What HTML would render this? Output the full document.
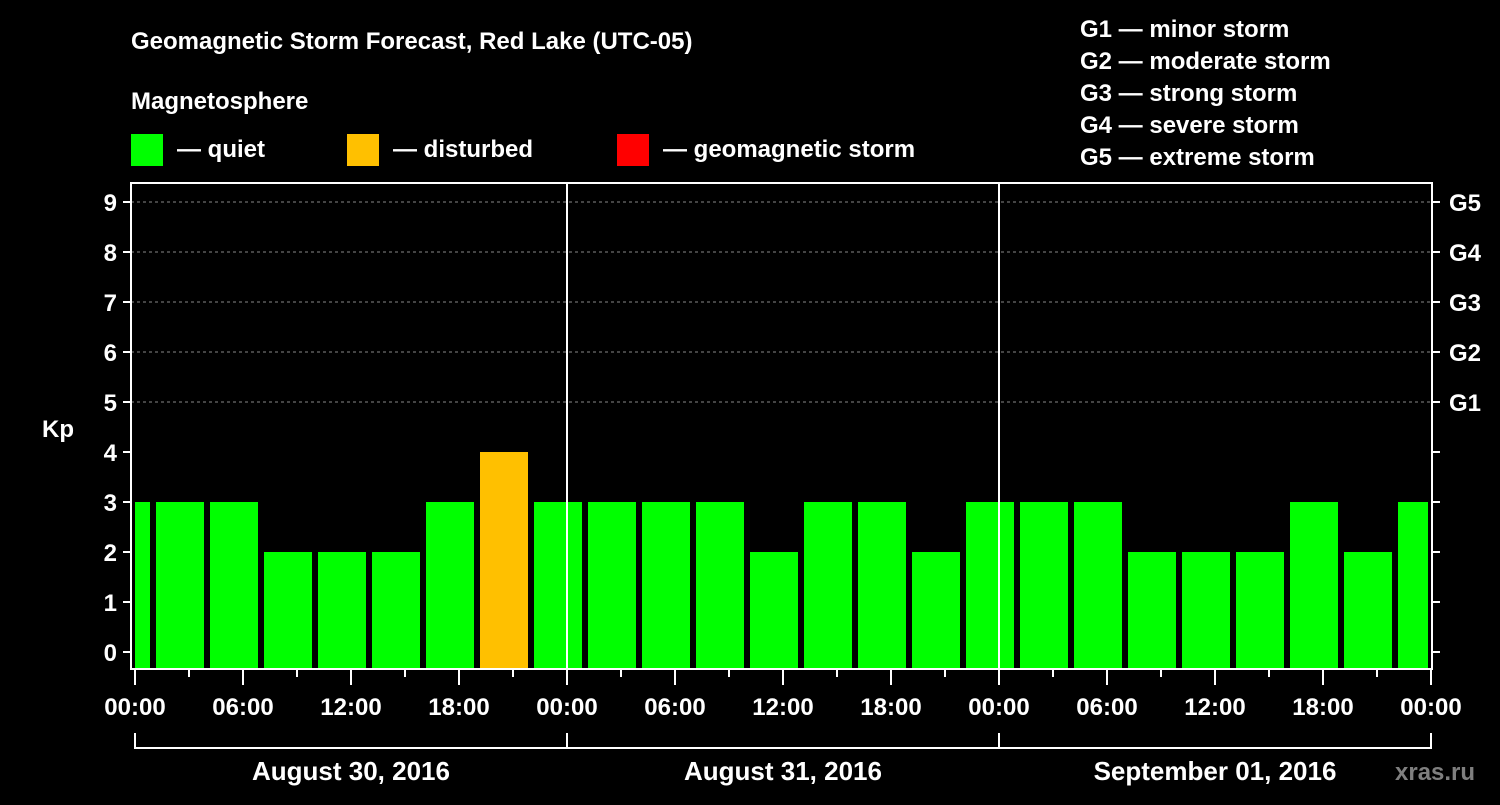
<!DOCTYPE html>
<html><head><meta charset="utf-8"><style>
body{margin:0;background:#000;width:1500px;height:800px;overflow:hidden}
svg text{font-family:"Liberation Sans",Arial,sans-serif;font-weight:bold;fill:#fff}
</style></head><body>
<svg id="c" width="1500" height="800" viewBox="0 0 1500 800">
<text x="131" y="49" font-size="24">Geomagnetic Storm Forecast, Red Lake (UTC-05)</text>
<text x="131" y="109" font-size="24">Magnetosphere</text>
<g><rect x="131" y="134" width="32" height="32" fill="#00ff00"/><text x="177" y="157" font-size="24">— quiet</text></g>
<g><rect x="347" y="134" width="32" height="32" fill="#ffc000"/><text x="393" y="157" font-size="24">— disturbed</text></g>
<g><rect x="617" y="134" width="32" height="32" fill="#ff0000"/><text x="663" y="157" font-size="24">— geomagnetic storm</text></g>
<g font-size="24">
<text x="1080" y="37">G1 — minor storm</text><text x="1080" y="69">G2 — moderate storm</text><text x="1080" y="101">G3 — strong storm</text><text x="1080" y="133">G4 — severe storm</text><text x="1080" y="165">G5 — extreme storm</text></g>
<text x="42" y="437" font-size="24">Kp</text>
<text x="1395" y="780" font-size="24" fill="#888" style="fill:#7f7f7f">xras.ru</text>
<g id="grid"></g><g id="bars"></g><g id="axes"></g>
</svg>
<script>
const kpValues=[3,3,3,2,2,2,3,4,3,3,3,3,2,3,3,2,3,3,3,2,2,2,3,2,3];
const kpTicks=[0,1,2,3,4,5,6,7,8,9];
const gLabels=["G1","G2","G3","G4","G5"];
const hourLabels=["00:00","06:00","12:00","18:00"];
const dayLabels=["August 30, 2016","August 31, 2016","September 01, 2016"];
const startHour=-2, totalHours=72;
const NS="http://www.w3.org/2000/svg";
const x0=135,pxH=18,yk=k=>652-50*k;
const X=h=>x0+h*pxH;
const L=131,R=1432,T=183,B=669;
function mk(p,t,a){const e=document.createElementNS(NS,t);for(const k in a)e.setAttribute(k,a[k]);p.appendChild(e);return e;}
const grid=document.getElementById('grid'),bars=document.getElementById('bars'),ax=document.getElementById('axes');
for(let k=5;k<=9;k++){const l=mk(grid,'line',{x1:L,x2:R,y1:yk(k),y2:yk(k),stroke:'#888','stroke-dasharray':'3,3','stroke-width':1});

}
kpValues.forEach((v,i)=>{let h1=startHour+i*3,h2=h1+3;let a=Math.max(X(h1),x0)+3,b=Math.min(X(h2),X(totalHours))-3;
if(h1<0)a=x0;
const c=v>=5?'#ff0000':(v>=4?'#ffc000':'#00ff00');
const r=mk(bars,'rect',{x:a,y:yk(v),width:b-a,height:B-yk(v),fill:c});

});
mk(ax,'rect',{x:L,y:T,width:R-L,height:B-T,fill:'none',stroke:'#fff','stroke-width':2});
for(let d=1;d<3;d++)mk(ax,'line',{x1:X(24*d),x2:X(24*d),y1:T,y2:B,stroke:'#fff','stroke-width':2});
kpTicks.forEach(k=>{mk(ax,'line',{x1:L-8,x2:L,y1:yk(k),y2:yk(k),stroke:'#fff','stroke-width':2});
mk(ax,'line',{x1:R,x2:R+8,y1:yk(k),y2:yk(k),stroke:'#fff','stroke-width':2});
const t=mk(ax,'text',{x:L-14,y:yk(k)+9,'font-size':24,'text-anchor':'end'});t.textContent=k;

});
gLabels.forEach((g,i)=>{const t=mk(ax,'text',{x:R+17,y:yk(5+i)+9,'font-size':24});t.textContent=g;

});
for(let h=0;h<=totalHours;h+=3){const maj=h%6==0;mk(ax,'line',{x1:X(h),x2:X(h),y1:B,y2:B+(maj?16:8),stroke:'#fff','stroke-width':2});
if(maj&&h%6==0&&(h%24)%6==0&&h%6==0&&(h%24==0||h%6==0)){}
}
for(let h=0;h<=totalHours;h+=6){const t=mk(ax,'text',{x:X(h),y:715,'font-size':24,'text-anchor':'middle'});t.textContent=hourLabels[(h%24)/6];

}
mk(ax,'line',{x1:X(0),x2:X(totalHours),y1:748,y2:748,stroke:'#fff','stroke-width':2});
for(let d=0;d<=3;d++)mk(ax,'line',{x1:X(24*d),x2:X(24*d),y1:733,y2:749,stroke:'#fff','stroke-width':2});
dayLabels.forEach((s,i)=>{const t=mk(ax,'text',{x:X(24*i+12),y:780,'font-size':26,'text-anchor':'middle'});t.textContent=s;

});
</script>
</body></html>
